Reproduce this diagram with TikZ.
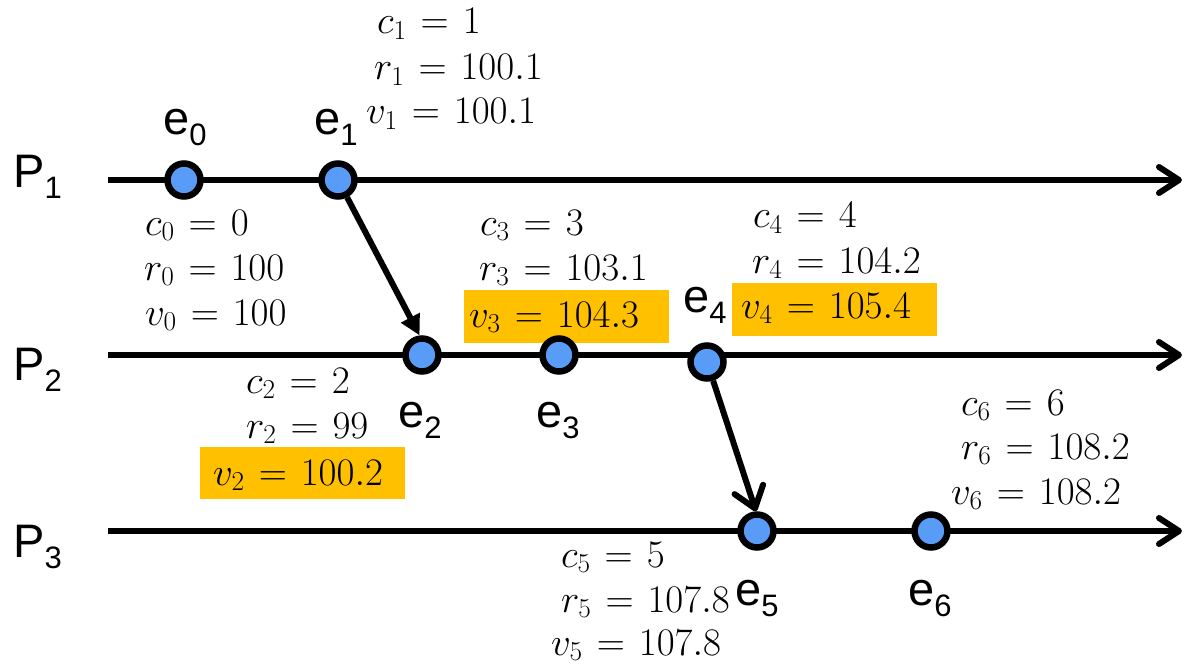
\RequirePackage{fix-cm}
\documentclass[tikz,border=0pt]{standalone}
\usepackage{fontspec}
\setsansfont{Liberation Sans}
\usetikzlibrary{arrows.meta}
\definecolor{evblue}{RGB}{88,156,248}
\definecolor{hlgold}{RGB}{255,192,0}
\thickmuskip=6.5mu plus 1mu
\tikzset{
  ev/.style={circle, draw=black, fill=evblue, line width=6.5pt, minimum size=33pt, inner sep=0pt},
  axisline/.style={line width=6pt, -{Straight Barb[length=20pt,width=26pt,round]}},
  msgtri/.style={line width=6pt, -{Triangle[length=20pt,width=20pt]}},
  msgbarb/.style={line width=6pt, -{Straight Barb[length=20pt,width=30pt,round]}},
  lbl/.style={font=\sffamily\fontsize{47}{47}\selectfont, inner sep=0pt, anchor=base west},
  mth/.style={font=\fontsize{39}{45}\selectfont, inner sep=0pt, anchor=base west},
  hlbox/.style={fill=hlgold},
}
\newcommand{\subsf}[1]{\raisebox{-11pt}{\fontsize{31}{31}\selectfont #1}}
\begin{document}
\begin{tikzpicture}[x=1pt,y=-1pt]
\useasboundingbox (0,0) rectangle (1187,666);
% highlight boxes
\fill[hlbox] (464,290) rectangle (669,343);
\fill[hlbox] (732,283) rectangle (937,336);
\fill[hlbox] (200,447) rectangle (405,499);
% axes
\coordinate (s1) at (108,180); \coordinate (t1) at (1182,180);
\coordinate (s2) at (108,355); \coordinate (t2) at (1182,355);
\coordinate (s3) at (108,531); \coordinate (t3) at (1182,531);
\draw[axisline] (s1) -- (t1);
\draw[axisline] (s2) -- (t2);
\draw[axisline] (s3) -- (t3);
% events
\node[ev] (e0) at (184,180) {};
\node[ev] (e1) at (338,180) {};
\node[ev] (e2) at (422,355) {};
\node[ev] (e3) at (559,355) {};
\node[ev] (e4) at (707,362) {};
\node[ev] (e5) at (757,531) {};
\node[ev] (e6) at (931,531) {};
% messages
\draw[msgtri] (e1) -- (e2.97);
\draw[msgbarb] (e4) -- (e5.93);
% process labels
\node[lbl] (p1) at (13,188) {P\subsf{1}};
\node[lbl] (p2) at (13,380) {P\subsf{2}};
\node[lbl] (p3) at (13,557) {P\subsf{3}};
% event labels
\node[lbl] (le0) at (163,135) {e\subsf{0}};
\node[lbl] (le1) at (314,135) {e\subsf{1}};
\node[lbl] (le2) at (398,427) {e\subsf{2}};
\node[lbl] (le3) at (536,427) {e\subsf{3}};
\node[lbl] (le4) at (683,312) {e\subsf{4}};
\node[lbl] (le5) at (735,605) {e\subsf{5}};
\node[lbl] (le6) at (908,605) {e\subsf{6}};
% values
\node[mth] (c1) at (377,34) {$c_1 = 1$};
\node[mth] (r1) at (374,80) {$r_1 = 100.1$};
\node[mth] (v1) at (366,124) {$v_1 = 100.1$};
\node[mth] (c0) at (145,235) {$c_0 = 0$};
\node[mth] (r0) at (144,280) {$r_0 = 100$};
\node[mth] (v0) at (145,325) {$v_0 = 100$};
\node[mth] (c3) at (480,235) {$c_3 = 3$};
\node[mth] (r3) at (479,280) {$r_3 = 103.1$};
\node[mth] (v3) at (469,327) {$v_3 = 104.3$};
\node[mth] (c4) at (753,228) {$c_4 = 4$};
\node[mth] (r4) at (752,273) {$r_4 = 104.2$};
\node[mth] (v4) at (741,318) {$v_4 = 105.4$};
\node[mth] (c2) at (246,393) {$c_2 = 2$};
\node[mth] (r2) at (246,438) {$r_2 = 99$};
\node[mth] (v2) at (213,485) {$v_2 = 100.2$};
\node[mth] (c6) at (961,415) {$c_6 = 6$};
\node[mth] (r6) at (961,459) {$r_6 = 108.2$};
\node[mth] (v6) at (951,504) {$v_6 = 108.2$};
\node[mth] (c5) at (561,567) {$c_5 = 5$};
\node[mth] (r5) at (561,612) {$r_5 = 107.8$};
\node[mth] (v5) at (551,655) {$v_5 = 107.8$};
\end{tikzpicture}
\end{document}
